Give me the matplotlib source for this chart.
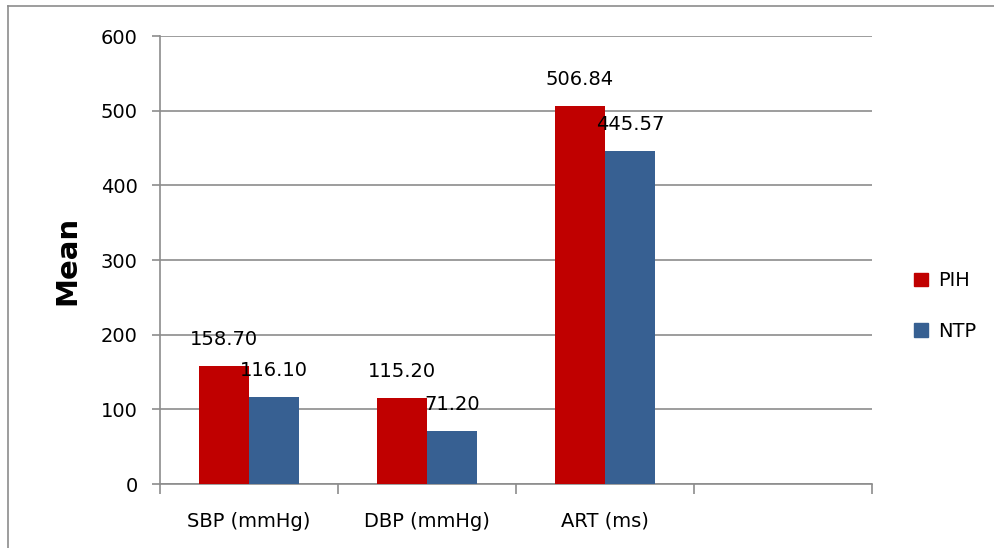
import numpy as np
import matplotlib.pyplot as plt
from matplotlib.lines import Line2D
from matplotlib.patches import Patch

plt.rcParams['font.family'] = ['DejaVu Sans']

categories = ["SBP (mmHg)", "DBP (mmHg)", "ART (ms)"]
pih = [158.70, 115.20, 506.84]
ntp = [116.10, 71.20, 445.57]
pih_labels = ["158.70", "115.20", "506.84"]
ntp_labels = ["116.10", "71.20", "445.57"]

red = "#C00000"
blue = "#376092"
grey = "#8c8c8c"
fs = 14

fig = plt.figure(figsize=(9.95, 5.48), dpi=100)
ax = fig.add_axes([160/995, 1-484/548, (872-160)/995, (484-36)/548])

# frame round the whole chart
fig.add_artist(Line2D([8/995, 8/995], [0, 1-6/548], color=grey, lw=1.2))
fig.add_artist(Line2D([8/995, 1], [1-6/548, 1-6/548], color=grey, lw=1.2))

x = np.arange(len(categories)) + 0.5
w = 50/178
b1 = ax.bar(x - w/2, pih, w, color=red, label="PIH", zorder=3)
b2 = ax.bar(x + w/2, ntp, w, color=blue, label="NTP", zorder=3)

for bars, labs in ((b1, pih_labels), (b2, ntp_labels)):
    for r, t in zip(bars, labs):
        ax.annotate(t, (r.get_x() + r.get_width()/2, r.get_height()),
                    xytext=(0, 19), textcoords="offset points",
                    ha="center", va="center", fontsize=fs, zorder=4)

ax.set_xlim(0, 4)
ax.set_ylim(0, 600)
ax.set_yticks(np.arange(0, 601, 100))
ax.set_xticks(x)
ax.set_xticklabels(categories, fontsize=fs)
ax.set_xticks(np.arange(0, 5), minor=True)
ax.tick_params(axis="x", which="major", length=0, pad=20)
ax.tick_params(axis="x", which="minor", length=7, color=grey, width=1.2)
ax.tick_params(axis="y", length=6, color=grey, width=1.2, labelsize=fs, pad=10)
ax.yaxis.grid(True, color=grey, lw=1.2, zorder=0)

for s in ("top", "right"):
    ax.spines[s].set_visible(False)
for s in ("left", "bottom"):
    ax.spines[s].set_color(grey)
    ax.spines[s].set_linewidth(1.2)

ax.set_ylabel("Mean", fontsize=21, fontweight="bold", labelpad=14)

handles = [Patch(color=red, label="PIH"), Patch(color=blue, label="NTP")]
fig.legend(handles=handles, loc="center left", bbox_to_anchor=(897/995, 1-306/548),
           frameon=False, fontsize=fs, handlelength=0.7, handleheight=0.7,
           labelspacing=1.6, handletextpad=0.5)

fig.savefig("out.png", dpi=100)
